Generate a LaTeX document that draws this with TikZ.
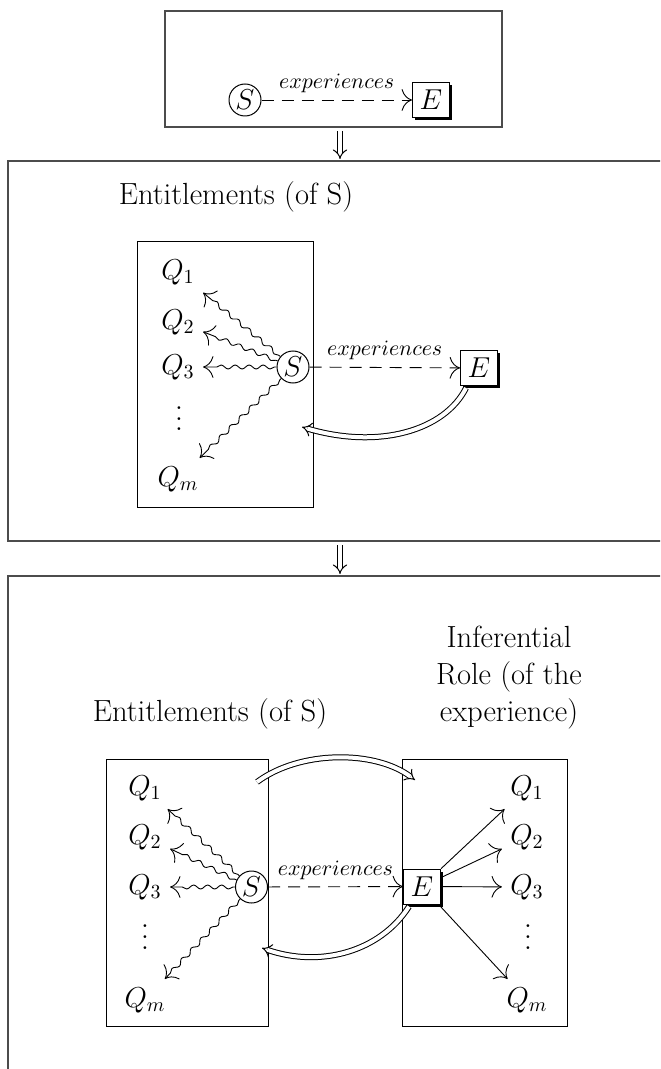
\documentclass[tikz,border=0pt]{standalone}
\usetikzlibrary{arrows.meta,decorations.pathmorphing,shadows}
\newcommand{\myvdots}{\vbox{\baselineskip=5.3pt\lineskiplimit=0pt\hbox{.}\hbox{.}\hbox{.}}}
\begin{document}
\begin{tikzpicture}[x=0.5pt,y=-0.5pt,
  outerbox/.style={draw=black!70,line width=0.75pt,rectangle,inner sep=0pt,outer sep=0pt},
  innerbox/.style={draw,line width=0.5pt,rectangle,inner sep=0pt,outer sep=0pt},
  ttl/.style={font=\fontsize{15.3}{18.5}\selectfont,inner sep=0pt},
  qn/.style={font=\fontsize{14.4}{17}\selectfont,inner sep=4pt},
  dotsnode/.style={font=\fontsize{14.4}{17}\selectfont,inner sep=0pt},
  snode/.style={circle,draw,line width=0.5pt,fill=white,minimum size=16pt,inner sep=0pt,font=\fontsize{14.4}{17}\selectfont},
  enode/.style={rectangle,draw,line width=0.5pt,fill=white,minimum width=18.5pt,minimum height=17.5pt,inner sep=0pt,font=\fontsize{14.4}{17}\selectfont,drop shadow={shadow xshift=1.3pt,shadow yshift=-1.3pt,fill=black,opacity=1}},
  lbl/.style={font=\fontsize{10.95}{13}\selectfont,inner sep=0pt},
  dashedarrow/.style={dash pattern=on 6pt off 4pt,line width=0.45pt,-{To[scale=2]}},
  plainarrow/.style={line width=0.45pt,-{To[scale=2]}},
  squig/.style={line width=0.45pt,-{To[scale=2]},decorate,decoration={snake,amplitude=1pt,segment length=7pt,pre length=1pt,post length=4pt}},
  dblarrow/.style={double,double distance=2pt,line width=0.5pt,-{Implies}},
]
\useasboundingbox (0,0) rectangle (660,1069);
\clip (0,0) rectangle (660,1069);

% ---------- outer frames ----------
\node[outerbox,minimum width=168.5pt,minimum height=58pt] (top) at (333.5,69) {};
\node[outerbox,minimum width=332pt,minimum height=190pt] (box2) at (340,351) {};
\node[outerbox,minimum width=332pt,minimum height=277pt] (box3) at (340,853) {};

\draw[dblarrow] ([yshift=-2pt]top.south -| box2.north) -- ([yshift=1pt]box2.north);
\draw[dblarrow] ([yshift=-2pt]box2.south) -- ([yshift=1pt]box3.north);

% ---------- top panel ----------
\node[snode] (S1) at (245,100) {$S$};
\node[enode] (E1) at (431,100) {$E$};
\draw[dashedarrow] (S1) -- node[lbl,midway,above=3.5pt] {$experiences$} (E1);

% ---------- second panel ----------
\node[ttl,anchor=base] (t2) at (236,205) {Entitlements (of S)};
\node[innerbox,minimum width=88pt,minimum height=132.5pt] (ent1) at (225,374.5) {};
\node[qn] (a1) at (178,272) {$Q_1$};
\node[qn] (a2) at (178,322) {$Q_2$};
\node[qn] (a3) at (178,367) {$Q_3$};
\node[dotsnode] (ad) at (179,419) {\myvdots};
\node[qn] (am) at (178,479) {$Q_m$};
\node[snode] (S2) at (293,367) {$S$};
\node[enode] (E2) at (479,368) {$E$};
\draw[dashedarrow] (S2) -- node[lbl,midway,above=3.5pt] {$experiences$} (E2);
\foreach \q in {a1,a2,a3,am} \draw[squig] (S2) -- (\q);
\coordinate (r1) at (302,427);
\draw[dblarrow] ([xshift=3pt,yshift=-1pt]E2.south west) .. controls (445,430) and (380,450) .. (r1);

% ---------- third panel ----------
\node[ttl,anchor=base] (t3) at (210,721) {Entitlements (of S)};
\node[ttl,align=center] (t4) at (509,678) {Inferential\\Role (of the\\experience)};
\node[innerbox,minimum width=81pt,minimum height=133.5pt] (ent2) at (187,892.5) {};
\node[innerbox,minimum width=82.5pt,minimum height=133.5pt] (inf) at (484.5,892.5) {};
\node[qn] (b1) at (145,788) {$Q_1$};
\node[qn] (b2) at (145,837) {$Q_2$};
\node[qn] (b3) at (145,887) {$Q_3$};
\node[dotsnode] (bd) at (145,937) {\myvdots};
\node[qn] (bm) at (145,1000) {$Q_m$};
\node[qn] (c1) at (527,788) {$Q_1$};
\node[qn] (c2) at (527,837) {$Q_2$};
\node[qn] (c3) at (527,887) {$Q_3$};
\node[dotsnode] (cd) at (528,937) {\myvdots};
\node[qn] (cm) at (527,1000) {$Q_m$};
\node[snode] (S3) at (251.5,887) {$S$};
\node[enode] (E3) at (422,886.5) {$E$};
\draw[dashedarrow] (S3) -- node[lbl,midway,above=3.5pt] {$experiences$} (E3);
\foreach \q in {b1,b2,b3,bm} \draw[squig] (S3) -- (\q);
\foreach \q in {c1,c2,c3,cm} \draw[plainarrow] (E3) -- (\q);
\coordinate (u1) at (257,782);
\coordinate (u2) at (415,780);
\draw[dblarrow] (u1) .. controls (300,750) and (375,750) .. (u2);
\coordinate (r2) at (262,948);
\draw[dblarrow] ([xshift=3pt,yshift=-1pt]E3.south west) .. controls (380,952) and (320,968) .. (r2);
\end{tikzpicture}
\end{document}
